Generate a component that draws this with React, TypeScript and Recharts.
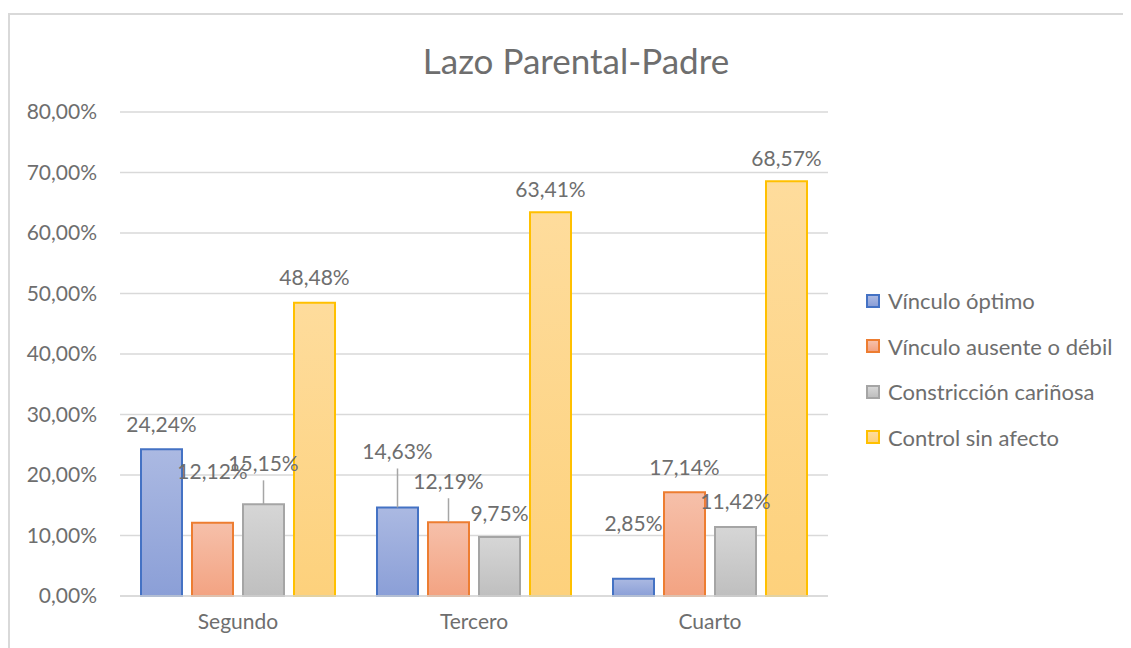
import { Bar, BarChart, CartesianGrid, LabelList, XAxis, YAxis } from "recharts"

const grados = ["Segundo", "Tercero", "Cuarto"]

const vinculoOptimo = [0.2424, 0.1463, 0.0285]
const vinculoAusente = [0.1212, 0.1219, 0.1714]
const constriccion = [0.1515, 0.0975, 0.1142]
const controlSinAfecto = [0.4848, 0.6341, 0.6857]

const yTicks = [0, 0.1, 0.2, 0.3, 0.4, 0.5, 0.6, 0.7, 0.8]

const data = grados.map((name, i) => ({
  name,
  optimo: vinculoOptimo[i],
  ausente: vinculoAusente[i],
  constriccion: constriccion[i],
  control: controlSinAfecto[i],
}))

// how Excel nudged a few labels out of the way (px above bar top, leader line)
const labelLift: Record<string, [number, boolean][]> = {
  optimo: [[26, false], [57, true], [56, false]],
  ausente: [[52, false], [42, true], [26, false]],
  constriccion: [[42, true], [25, false], [26, false]],
  control: [[26, false], [24, false], [24, false]],
}

const series = [
  { key: "optimo", name: "Vínculo óptimo", stroke: "#4472c4", top: "#abb9e2", bottom: "#8b9fd7" },
  { key: "ausente", name: "Vínculo ausente o débil", stroke: "#ed7d31", top: "#f6c0aa", bottom: "#f3a382" },
  { key: "constriccion", name: "Constricción cariñosa", stroke: "#a5a5a5", top: "#d6d6d6", bottom: "#bfbfbf" },
  { key: "control", name: "Control sin afecto", stroke: "#ffc000", top: "#fedc9c", bottom: "#fdd17c" },
]

const font = "Lato, 'Open Sans', sans-serif"
const textColor = "#6e6e6e"

const pct = (v: number) => (v * 100).toFixed(2).replace(".", ",") + "%"

function makeLabel(key: string) {
  return (props: any) => {
    const { x, y, width, value, index } = props
    const [lift, leader] = labelLift[key][index] ?? [26, false]
    const cx = x + width / 2
    const cy = y - lift
    return (
      <g>
        {leader && (
          <line x1={cx} x2={cx} y1={cy + 18} y2={y} stroke="#a6a6a6" strokeWidth={1.5} />
        )}
        <text
          x={cx}
          y={cy}
          textAnchor="middle"
          dominantBaseline="central"
          fill={textColor}
          fontSize={21}
          fontFamily={font}
        >
          {pct(value)}
        </text>
      </g>
    )
  }
}

function LegendBox() {
  return (
    <div
      style={{
        position: "absolute",
        left: 856,
        top: 263,
        fontFamily: font,
        fontSize: 22,
        color: textColor,
      }}
    >
      {series.map(s => (
        <div key={s.key} style={{ display: "flex", alignItems: "center", height: 45.5 }}>
          <span
            style={{
              width: 10,
              height: 10,
              border: `2px solid ${s.stroke}`,
              background: `linear-gradient(${s.top}, ${s.bottom})`,
              marginRight: 8,
            }}
          />
          <span>{s.name}</span>
        </div>
      ))}
    </div>
  )
}

export default function App() {
  return (
    <div
      style={{
        marginTop: 5,
        width: 1121,
        height: 633,
        borderTop: "2px solid #d9d9d9",
        borderLeft: "2px solid #d9d9d9",
        position: "relative",
      }}
    >
      <BarChart
        width={1121}
        height={633}
        data={data}
        margin={{ top: 97, right: 303, bottom: 0, left: 0 }}
        barSize={41}
        barGap={10}
      >
        <defs>
          {series.map(s => (
            <linearGradient key={s.key} id={`g-${s.key}`} x1="0" y1="0" x2="0" y2="1">
              <stop offset="0%" stopColor={s.top} />
              <stop offset="100%" stopColor={s.bottom} />
            </linearGradient>
          ))}
        </defs>
        <text
          x={566}
          y={45}
          textAnchor="middle"
          dominantBaseline="central"
          fontSize={35}
          fontFamily={font}
          fill={textColor}
        >
          Lazo Parental-Padre
        </text>
        <CartesianGrid vertical={false} stroke="#d9d9d9" strokeWidth={1.5} />
        <XAxis
          dataKey="name"
          height={52}
          tickLine={false}
          axisLine={{ stroke: "#d9d9d9", strokeWidth: 1.5 }}
          tickSize={0}
          tickMargin={18}
          tick={{ fill: textColor, fontSize: 21, fontFamily: font }}
        />
        <YAxis
          width={110}
          domain={[0, 0.8]}
          ticks={yTicks}
          interval={0}
          tickLine={false}
          axisLine={false}
          tickSize={0}
          tickMargin={23}
          tickFormatter={pct}
          tick={{ fill: textColor, fontSize: 21, fontFamily: font }}
        />
        {series.map(s => (
          <Bar
            key={s.key}
            dataKey={s.key}
            name={s.name}
            fill={`url(#g-${s.key})`}
            stroke={s.stroke}
            strokeWidth={2}
            isAnimationActive={false}
          >
            <LabelList dataKey={s.key} content={makeLabel(s.key)} />
          </Bar>
        ))}
      </BarChart>
      <LegendBox />
    </div>
  )
}
